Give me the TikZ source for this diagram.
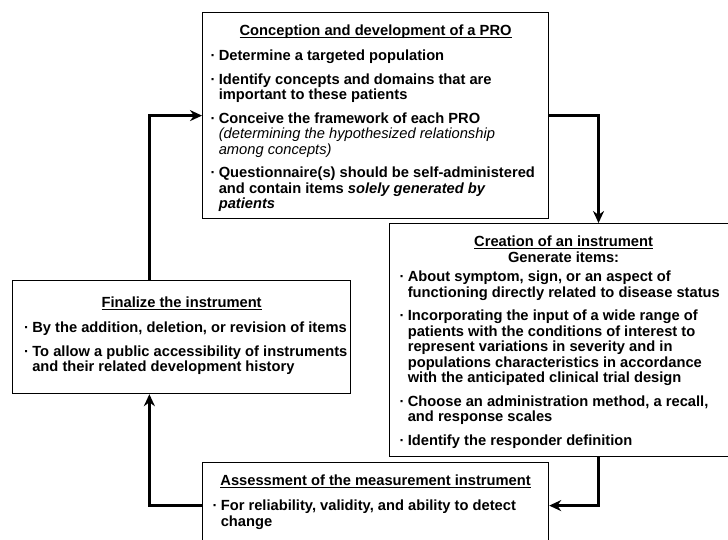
\documentclass[tikz,border=0pt]{standalone}
\usepackage{fontspec}
\setmainfont{Liberation Sans}
\usetikzlibrary{arrows.meta,calc}

% underlined, centred heading of a panel
\newsavebox\ttlbox
\newcommand{\ttl}[1]{\sbox\ttlbox{#1}\centerline{\rlap{\rule[-2.4pt]{\wd\ttlbox}{0.9pt}}\usebox\ttlbox}}
% bulleted item with hanging indent
\newcommand{\pitem}[1]{\par\hangindent=8.2pt\hangafter=1\noindent\makebox[8.2pt][l]{·}#1\par}
% panel body: width, height, left margin, text
\newcommand{\panel}[4]{\parbox[c][#2][t]{#1}{\raggedright\leftskip=#3\relax\vspace*{12.6pt}#4}}

\begin{document}
\begin{tikzpicture}[x=1pt, y=-1pt,
  stage/.style={draw, line width=1.2pt, inner sep=0pt, anchor=north west,
    font=\bfseries\fontsize{14.7}{15.5}\selectfont},
  flow/.style={line width=2.6pt, -{Stealth[length=12pt,width=11pt]}}]
  \useasboundingbox (0,0) rectangle (728,539);
  \clip (0,0) rectangle (728,539);

  \node[stage] (concept) at (202,12) {\panel{346pt}{206pt}{8pt}{%
    \ttl{Conception and development of a PRO}\vspace{9.5pt}
    \pitem{Determine a targeted population}\vspace{8pt}
    \pitem{Identify concepts and domains that are\newline important to these patients}\vspace{8pt}
    \pitem{Conceive the framework of each PRO\newline{\mdseries\itshape (determining the hypothesized relationship\newline among concepts)}}\vspace{8pt}
    \pitem{Questionnaire(s) should be self-administered\newline and contain items \textit{solely generated by}\newline\textit{patients}}}};

  \node[stage] (creation) at (389,223) {\panel{348pt}{233pt}{10pt}{%
    \ttl{Creation of an instrument}
    \centerline{Generate items:}\vspace{4pt}
    \pitem{About symptom, sign, or an aspect of\newline functioning directly related to disease status}\vspace{8pt}
    \pitem{Incorporating the input of a wide range of\newline patients with the conditions of interest to\newline represent variations in severity and in\newline populations characteristics in accordance\newline with the anticipated clinical trial design}\vspace{8pt}
    \pitem{Choose an administration method, a recall,\newline and response scales}\vspace{8pt}
    \pitem{Identify the responder definition}}};

  \node[stage] (finalize) at (12,280) {\panel{338pt}{113pt}{11.5pt}{%
    \vspace{4pt}
    \ttl{Finalize the instrument}\vspace{9.5pt}
    \pitem{By the addition, deletion, or revision of items}\vspace{8pt}
    \pitem{To allow a public accessibility of instruments\newline and their related development history}}};

  \node[stage] (assess) at (202,462) {\panel{346pt}{86pt}{10pt}{%
    \ttl{Assessment of the measurement instrument}\vspace{9.5pt}
    \pitem{For reliability, validity, and ability to detect\newline change}}};

  \coordinate (c1) at ($(creation.north west)!0.6!(creation.north east)$);
  \coordinate (f1) at ($(finalize.north west)!0.405!(finalize.north east)$);

  \draw[flow] (concept.east) -| (c1);
  \draw[flow] (creation.south -| c1) |- (assess.east);
  \draw[flow] (assess.west) -| (finalize.south -| f1);
  \draw[flow] (finalize.north -| f1) |- (concept.west);
\end{tikzpicture}
\end{document}
